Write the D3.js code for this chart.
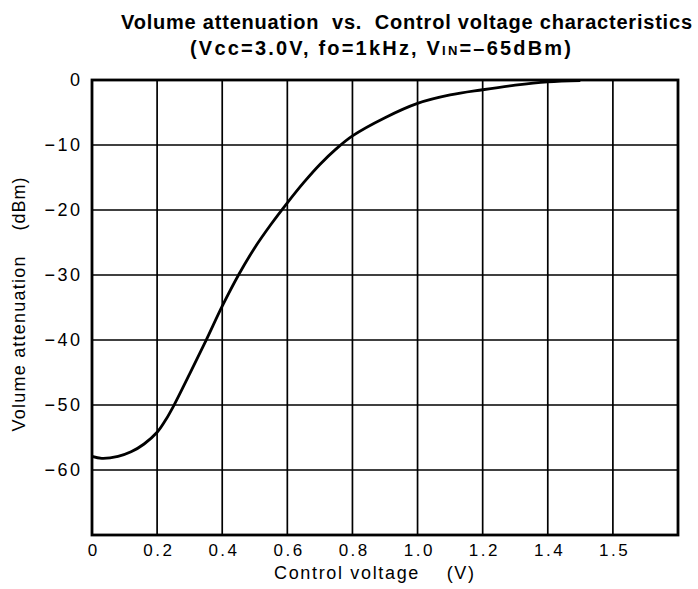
<!DOCTYPE html>
<html>
<head>
<meta charset="utf-8">
<script src="https://cdn.jsdelivr.net/npm/d3@7"></script>
<style>
  html, body { margin: 0; padding: 0; background: #fff; }
  svg { display: block; }
  text { font-family: "Liberation Sans", Arial, Helvetica, sans-serif; fill: #000; white-space: pre; }
</style>
</head>
<body>
<svg id="chart" width="698" height="589"></svg>
<script>
// ---- data ----
const voltage = [0, 0.03, 0.08, 0.12, 0.16, 0.2, 0.225, 0.25, 0.3, 0.35, 0.4, 0.45, 0.5, 0.55, 0.6, 0.65, 0.7, 0.75, 0.8, 0.9, 1.0, 1.1, 1.2, 1.3, 1.4, 1.5];
const attenuation = [-57.9, -58.2, -57.9, -57.2, -56.0, -54.2, -52.4, -50.2, -45.2, -40.1, -34.8, -30.0, -25.8, -22.2, -18.9, -15.8, -13.0, -10.6, -8.6, -5.8, -3.6, -2.3, -1.5, -0.8, -0.3, -0.1];
const xTickValues = [0, 0.2, 0.4, 0.6, 0.8, 1.0, 1.2, 1.4, 1.6];
const xTickLabels = ["0", "0.2", "0.4", "0.6", "0.8", "1.0", "1.2", "1.4", "1.5"];
const yTickValues = [0, -10, -20, -30, -40, -50, -60];
const yTickLabels = ["0", "\u221210", "\u221220", "\u221230", "\u221240", "\u221250", "\u221260"];
const titleLine1 = "Volume attenuation  vs.  Control voltage characteristics";
const titleLine2 = ["(Vcc=3.0V, fo=1kHz, V", "IN", "=\u201365dBm)"];
const xAxisTitle = "Control voltage    (V)";
const yAxisTitle = ["Volume attenuation", "(dBm)"];

// ---- layout ----
const svg = d3.select("#chart");
const L = 92, T = 80, R = 678, B = 535;
const x = d3.scaleLinear().domain([0, 1.8]).range([L, R]);
const y = d3.scaleLinear().domain([-70, 0]).range([B, T]);

// grid lines
const grid = svg.append("g").attr("stroke", "#000").attr("stroke-width", 1.7);
grid.selectAll("line.v").data(xTickValues.slice(1)).join("line")
  .attr("x1", d => x(d)).attr("x2", d => x(d)).attr("y1", T).attr("y2", B);
grid.selectAll("line.h").data(yTickValues.slice(1)).join("line")
  .attr("y1", d => y(d)).attr("y2", d => y(d)).attr("x1", L).attr("x2", R);

// frame
svg.append("rect").attr("x", L).attr("y", T).attr("width", R - L).attr("height", B - T)
  .attr("fill", "none").attr("stroke", "#000").attr("stroke-width", 2.8);

// axes (labels only)
const LS = 2.5;
const xAxis = d3.axisBottom(x).tickValues(xTickValues)
  .tickFormat((d, i) => xTickLabels[i]).tickSize(0).tickPadding(0);
const gx = svg.append("g").attr("transform", `translate(0,${B})`).call(xAxis);
gx.select(".domain").remove();
gx.selectAll("text").attr("font-size", 17).attr("dy", null).attr("y", 21).attr("dx", LS / 2)
  .attr("letter-spacing", LS)
  .style("font-family", "Liberation Sans, Arial, sans-serif").attr("fill", "#000");

const yAxis = d3.axisLeft(y).tickValues(yTickValues)
  .tickFormat((d, i) => yTickLabels[i]).tickSize(0).tickPadding(12 - LS);
const gy = svg.append("g").attr("transform", `translate(${L},0)`).call(yAxis);
gy.select(".domain").remove();
gy.selectAll("text").attr("font-size", 18).attr("letter-spacing", LS)
  .style("font-family", "Liberation Sans, Arial, sans-serif").attr("fill", "#000");

// curve
const line = d3.line().x(d => x(d[0])).y(d => y(d[1])).curve(d3.curveCatmullRom.alpha(0.5));
svg.append("path").datum(voltage.map((v, i) => [v, attenuation[i]]))
  .attr("d", line).attr("fill", "none").attr("stroke", "#000").attr("stroke-width", 2.8);

// titles
svg.append("text").attr("x", 121).attr("y", 29)
  .attr("font-size", 20).attr("font-weight", "bold")
  .attr("textLength", 571).attr("lengthAdjust", "spacing")
  .text(titleLine1);
const t2 = svg.append("text").attr("x", 190).attr("y", 55)
  .attr("font-size", 20).attr("font-weight", "bold");
t2.append("tspan").text(titleLine2[0]);
t2.append("tspan").attr("font-size", 13).text(titleLine2[1]);
t2.append("tspan").text(titleLine2[2]);
// spread line 2 to its measured width
{
  const natural = t2.node().getComputedTextLength();
  const n = titleLine2.join("").length;
  t2.attr("letter-spacing", (381 - natural) / (n - 1));
}

// axis titles
svg.append("text").attr("x", 274).attr("y", 579)
  .attr("font-size", 18).attr("textLength", 200).attr("lengthAdjust", "spacing")
  .text(xAxisTitle);
svg.append("text").attr("transform", "translate(25,344) rotate(-90)").attr("text-anchor", "middle")
  .attr("font-size", 18).attr("textLength", 175).attr("lengthAdjust", "spacing")
  .text(yAxisTitle[0]);
svg.append("text").attr("transform", "translate(25,204) rotate(-90)").attr("text-anchor", "middle")
  .attr("font-size", 18).attr("textLength", 53).attr("lengthAdjust", "spacing")
  .text(yAxisTitle[1]);
</script>
</body>
</html>
